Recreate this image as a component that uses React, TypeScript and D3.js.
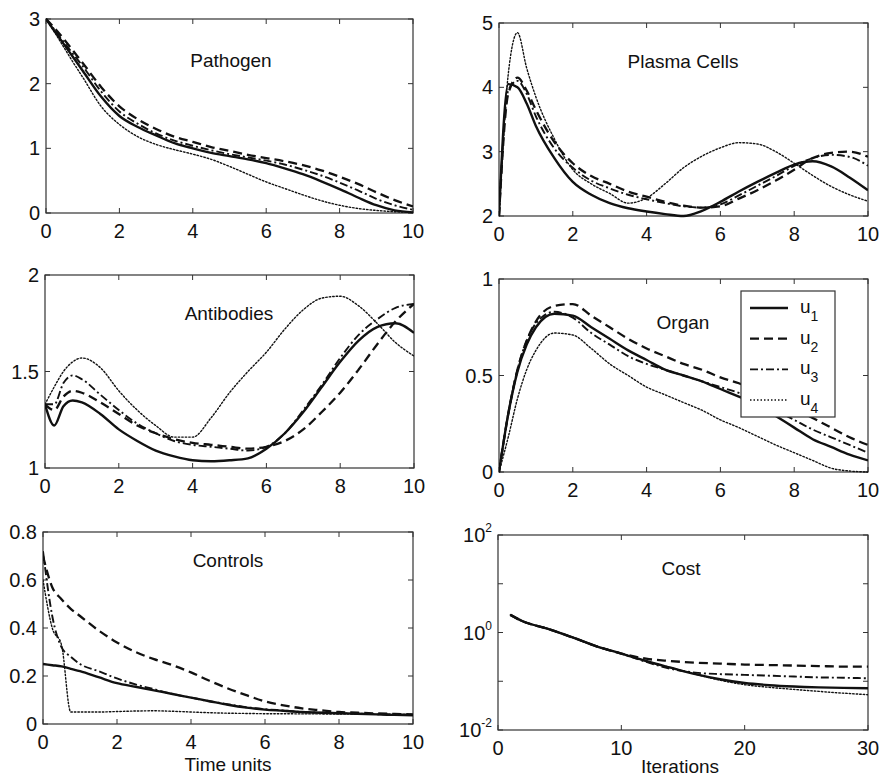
import React from 'react';
import * as d3 from 'd3';

// ---------- data ----------
const T = [0, 0.25, 0.5, 0.75, 1, 1.5, 2, 2.5, 3, 3.5, 4, 4.5, 5, 5.5, 6, 6.5, 7, 7.5, 8, 8.5, 9, 9.5, 10];
const seriesNames = ['1', '2', '3', '4'];

const pathogenU1 = [3.0, 2.8, 2.6, 2.4, 2.2, 1.8, 1.5, 1.33, 1.2, 1.08, 1.0, 0.93, 0.88, 0.83, 0.77, 0.69, 0.6, 0.49, 0.37, 0.24, 0.12, 0.04, 0.01];
const pathogenU2 = [3.0, 2.85, 2.68, 2.5, 2.32, 1.95, 1.65, 1.45, 1.3, 1.18, 1.1, 1.02, 0.96, 0.9, 0.85, 0.8, 0.74, 0.66, 0.56, 0.45, 0.32, 0.2, 0.1];
const pathogenU3 = [3.0, 2.82, 2.63, 2.45, 2.27, 1.88, 1.57, 1.38, 1.23, 1.12, 1.04, 0.97, 0.91, 0.86, 0.81, 0.75, 0.67, 0.58, 0.47, 0.35, 0.22, 0.12, 0.05];
const pathogenU4 = [3.0, 2.78, 2.55, 2.32, 2.1, 1.65, 1.37, 1.18, 1.06, 0.98, 0.91, 0.83, 0.72, 0.6, 0.48, 0.38, 0.28, 0.19, 0.12, 0.07, 0.04, 0.02, 0.01];

const plasmaU1 = [2.0, 4.05, 4.0, 3.75, 3.4, 2.9, 2.53, 2.33, 2.2, 2.12, 2.07, 2.03, 2.0, 2.08, 2.22, 2.38, 2.53, 2.67, 2.8, 2.85, 2.77, 2.6, 2.4];
const plasmaU2 = [2.0, 3.9, 4.15, 3.95, 3.65, 3.15, 2.82, 2.62, 2.5, 2.38, 2.3, 2.22, 2.16, 2.13, 2.15, 2.27, 2.4, 2.55, 2.72, 2.9, 2.98, 3.0, 2.92];
const plasmaU3 = [2.0, 3.95, 4.1, 3.9, 3.55, 3.05, 2.75, 2.55, 2.43, 2.33, 2.26, 2.2, 2.15, 2.13, 2.18, 2.32, 2.47, 2.62, 2.78, 2.9, 2.95, 2.92, 2.78];
const plasmaU4 = [2.0, 4.2, 4.85, 4.3, 3.85, 3.2, 2.72, 2.5, 2.35, 2.2, 2.28, 2.5, 2.75, 2.93, 3.06, 3.14, 3.12, 3.0, 2.82, 2.63, 2.46, 2.33, 2.23];

const antibodyU1 = [1.33, 1.22, 1.32, 1.35, 1.34, 1.28, 1.2, 1.14, 1.09, 1.06, 1.04, 1.035, 1.04, 1.05, 1.1, 1.18, 1.29, 1.42, 1.55, 1.66, 1.73, 1.75, 1.7];
const antibodyU2 = [1.33, 1.3, 1.37, 1.4, 1.39, 1.34, 1.28, 1.22, 1.18, 1.15, 1.13, 1.12, 1.11, 1.1, 1.11, 1.14, 1.2, 1.29, 1.39, 1.51, 1.64, 1.76, 1.85];
const antibodyU3 = [1.33, 1.33, 1.44, 1.48, 1.46, 1.38, 1.3, 1.23, 1.18, 1.14, 1.12, 1.11, 1.1, 1.09, 1.11, 1.18, 1.3, 1.43, 1.57, 1.69, 1.77, 1.83, 1.85];
const antibodyU4 = [1.33, 1.42, 1.5, 1.55, 1.57, 1.52, 1.4, 1.3, 1.22, 1.16, 1.16, 1.26, 1.39, 1.5, 1.6, 1.72, 1.82, 1.88, 1.89, 1.84, 1.75, 1.65, 1.58];

const organU1 = [0, 0.3, 0.52, 0.66, 0.75, 0.82, 0.81, 0.75, 0.69, 0.63, 0.58, 0.53, 0.5, 0.47, 0.43, 0.39, 0.35, 0.29, 0.23, 0.17, 0.13, 0.09, 0.06];
const organU2 = [0, 0.3, 0.53, 0.68, 0.78, 0.86, 0.87, 0.81, 0.75, 0.69, 0.64, 0.6, 0.56, 0.53, 0.49, 0.46, 0.42, 0.38, 0.33, 0.28, 0.23, 0.18, 0.14];
const organU3 = [0, 0.3, 0.53, 0.68, 0.77, 0.83, 0.8, 0.72, 0.66, 0.6, 0.56, 0.53, 0.5, 0.47, 0.44, 0.41, 0.37, 0.32, 0.27, 0.22, 0.18, 0.14, 0.1];
const organU4 = [0, 0.18, 0.38, 0.53, 0.63, 0.72, 0.71, 0.64, 0.56, 0.5, 0.44, 0.4, 0.36, 0.32, 0.27, 0.23, 0.185, 0.14, 0.1, 0.06, 0.02, 0.005, 0.0];

const controlU1 = [0.25, 0.245, 0.24, 0.23, 0.22, 0.195, 0.17, 0.155, 0.14, 0.125, 0.11, 0.095, 0.08, 0.068, 0.06, 0.055, 0.05, 0.047, 0.045, 0.043, 0.04, 0.038, 0.036];
const controlU2 = [0.7, 0.57, 0.52, 0.48, 0.45, 0.39, 0.34, 0.3, 0.27, 0.245, 0.215, 0.18, 0.148, 0.12, 0.094, 0.078, 0.065, 0.057, 0.05, 0.047, 0.044, 0.042, 0.04];
const controlU3 = [0.72, 0.45, 0.32, 0.28, 0.25, 0.22, 0.19, 0.165, 0.145, 0.125, 0.11, 0.095, 0.082, 0.07, 0.062, 0.056, 0.05, 0.047, 0.045, 0.043, 0.041, 0.04, 0.039];
const controlU4 = [0.6, 0.4, 0.33, 0.05, 0.05, 0.05, 0.052, 0.054, 0.055, 0.053, 0.05, 0.047, 0.045, 0.044, 0.043, 0.043, 0.042, 0.042, 0.041, 0.041, 0.04, 0.04, 0.04];

const iterations = [1, 2, 4, 6, 8, 10, 12, 14, 16, 18, 20, 22, 24, 26, 28, 30];
const costU1 = [2.3, 1.7, 1.2, 0.8, 0.52, 0.37, 0.26, 0.19, 0.14, 0.11, 0.092, 0.083, 0.078, 0.075, 0.073, 0.072];
const costU2 = [2.3, 1.7, 1.2, 0.8, 0.52, 0.37, 0.29, 0.26, 0.24, 0.23, 0.22, 0.215, 0.21, 0.205, 0.2, 0.2];
const costU3 = [2.3, 1.7, 1.2, 0.8, 0.52, 0.37, 0.25, 0.18, 0.15, 0.14, 0.135, 0.13, 0.125, 0.12, 0.118, 0.115];
const costU4 = [2.3, 1.7, 1.2, 0.8, 0.52, 0.37, 0.26, 0.19, 0.14, 0.105, 0.085, 0.075, 0.068, 0.062, 0.057, 0.053];

const timeTicks = [0, 2, 4, 6, 8, 10];
const iterTicks = [0, 10, 20, 30];

// ---------- styles ----------
const FONT = '"Liberation Sans", Arial, Helvetica, sans-serif';
const styles = [
  { dash: 'none', w: 2.4 },
  { dash: '9,5', w: 2.3 },
  { dash: '8,3,2,3', w: 1.9 },
  { dash: '1.5,2', w: 1.4 },
];
const INK = '#111';

type Panel = {
  title: string;
  box: [number, number, number, number];
  titlePos: [number, number];
  x: number[];
  xDomain: [number, number];
  xTicks: number[];
  yDomain: [number, number];
  yTicks: number[];
  log?: boolean;
  series: number[][];
  xlabel?: string;
  xlabelPos?: [number, number];
};

const panels: Panel[] = [
  { title: 'Pathogen', box: [46, 19, 413, 213], titlePos: [231, 67], x: T, xDomain: [0, 10], xTicks: timeTicks, yDomain: [0, 3], yTicks: [0, 1, 2, 3], series: [pathogenU1, pathogenU2, pathogenU3, pathogenU4] },
  { title: 'Plasma Cells', box: [499, 23, 868, 216], titlePos: [683, 68], x: T, xDomain: [0, 10], xTicks: timeTicks, yDomain: [2, 5], yTicks: [2, 3, 4, 5], series: [plasmaU1, plasmaU2, plasmaU3, plasmaU4] },
  { title: 'Antibodies', box: [45, 275, 414, 468], titlePos: [229, 320], x: T, xDomain: [0, 10], xTicks: timeTicks, yDomain: [1, 2], yTicks: [1, 1.5, 2], series: [antibodyU1, antibodyU2, antibodyU3, antibodyU4] },
  { title: 'Organ', box: [499, 279, 868, 472], titlePos: [683, 329], x: T, xDomain: [0, 10], xTicks: timeTicks, yDomain: [0, 1], yTicks: [0, 0.5, 1], series: [organU1, organU2, organU3, organU4] },
  { title: 'Controls', box: [43, 532, 413, 724], titlePos: [228, 567], x: T, xDomain: [0, 10], xTicks: timeTicks, yDomain: [0, 0.8], yTicks: [0, 0.2, 0.4, 0.6, 0.8], series: [controlU1, controlU2, controlU3, controlU4], xlabel: 'Time units', xlabelPos: [228, 771] },
  { title: 'Cost', box: [498, 535, 868, 730], titlePos: [681, 575], x: iterations, xDomain: [0, 30], xTicks: iterTicks, yDomain: [0.01, 100], yTicks: [0.01, 0.1, 1, 10, 100], log: true, series: [costU1, costU2, costU3, costU4], xlabel: 'Iterations', xlabelPos: [680, 773] },
];

const logExp: Record<number, string> = { 0.01: '-2', 1: '0', 100: '2' };

function PanelView({ p, idx }: { p: Panel; idx: number }) {
  const [x0, y0, x1, y1] = p.box;
  const xs = d3.scaleLinear().domain(p.xDomain).range([x0, x1]);
  const ys = p.log
    ? d3.scaleLog().domain(p.yDomain).range([y1, y0])
    : d3.scaleLinear().domain(p.yDomain).range([y1, y0]);
  const line = d3
    .line<[number, number]>()
    .x((d) => xs(d[0]))
    .y((d) => ys(d[1]))
    .curve(d3.curveMonotoneX);
  const clipId = `clip${idx}`;
  const tk = 5;
  return (
    <g>
      <defs>
        <clipPath id={clipId}>
          <rect x={x0} y={y0 - 2} width={x1 - x0} height={y1 - y0 + 4} />
        </clipPath>
      </defs>
      <rect x={x0} y={y0} width={x1 - x0} height={y1 - y0} fill="#fff" stroke="#333" strokeWidth={1.2} />
      {p.xTicks.map((t) => (
        <g key={'xt' + t}>
          <line x1={xs(t)} x2={xs(t)} y1={y1} y2={y1 - tk} stroke="#333" />
          <line x1={xs(t)} x2={xs(t)} y1={y0} y2={y0 + tk} stroke="#333" />
          <text x={xs(t)} y={y1 + 25} textAnchor="middle" fontSize={20} fontFamily={FONT} fill={INK}>
            {String(t)}
          </text>
        </g>
      ))}
      {p.yTicks.map((t) => (
        <g key={'yt' + t}>
          <line x1={x0} x2={x0 + tk} y1={ys(t)} y2={ys(t)} stroke="#333" />
          <line x1={x1} x2={x1 - tk} y1={ys(t)} y2={ys(t)} stroke="#333" />
          {p.log ? (
            logExp[t] !== undefined ? (
              <text x={x0 - 6} y={ys(t) + 7} textAnchor="end" fontSize={20} fontFamily={FONT} fill={INK}>
                <tspan>10</tspan>
                <tspan fontSize={12} dy={-10}>{logExp[t]}</tspan>
              </text>
            ) : null
          ) : (
            <text x={x0 - 6} y={ys(t) + 7} textAnchor="end" fontSize={20} fontFamily={FONT} fill={INK}>
              {String(t)}
            </text>
          )}
        </g>
      ))}
      <g clipPath={`url(#${clipId})`}>
        {p.series.map((vals, i) => {
          const pts: [number, number][] = vals.map((v, j) => [p.x[j], v]);
          return (
            <path
              key={i}
              d={line(pts) || ''}
              fill="none"
              stroke={INK}
              strokeWidth={styles[i].w}
              strokeDasharray={styles[i].dash}
              strokeLinecap={i === 3 ? 'round' : 'butt'}
            />
          );
        })}
      </g>
      <text x={p.titlePos[0]} y={p.titlePos[1]} textAnchor="middle" fontSize={19} fontFamily={FONT} fill={INK}>
        {p.title}
      </text>
      {p.xlabel && p.xlabelPos ? (
        <text x={p.xlabelPos[0]} y={p.xlabelPos[1]} textAnchor="middle" fontSize={19} fontFamily={FONT} fill={INK}>
          {p.xlabel}
        </text>
      ) : null}
    </g>
  );
}

function Legend() {
  const bx = 741, by = 291, bw = 94, bh = 126;
  const rowY = d3.scaleLinear().domain([0, 3]).range([308, 400]);
  return (
    <g>
      <rect x={bx} y={by} width={bw} height={bh} fill="#fff" stroke="#333" strokeWidth={1.2} />
      {seriesNames.map((n, i) => (
        <g key={n}>
          <line
            x1={750}
            x2={788}
            y1={rowY(i)}
            y2={rowY(i)}
            stroke={INK}
            strokeWidth={styles[i].w}
            strokeDasharray={styles[i].dash}
          />
          <text x={800} y={rowY(i) + 5} fontSize={19} fontFamily={FONT} fill={INK}>
            <tspan>u</tspan>
            <tspan fontSize={14} dy={8}>{n}</tspan>
          </text>
        </g>
      ))}
    </g>
  );
}

export default function App() {
  return (
    <svg
      width={880}
      height={782}
      viewBox="0 0 880 782"
      style={{ position: 'absolute', left: 0, top: 0, background: '#fff' }}
    >
      <rect x={0} y={0} width={880} height={782} fill="#fff" />
      {panels.map((p, i) => (
        <PanelView key={p.title} p={p} idx={i} />
      ))}
      <Legend />
    </svg>
  );
}
